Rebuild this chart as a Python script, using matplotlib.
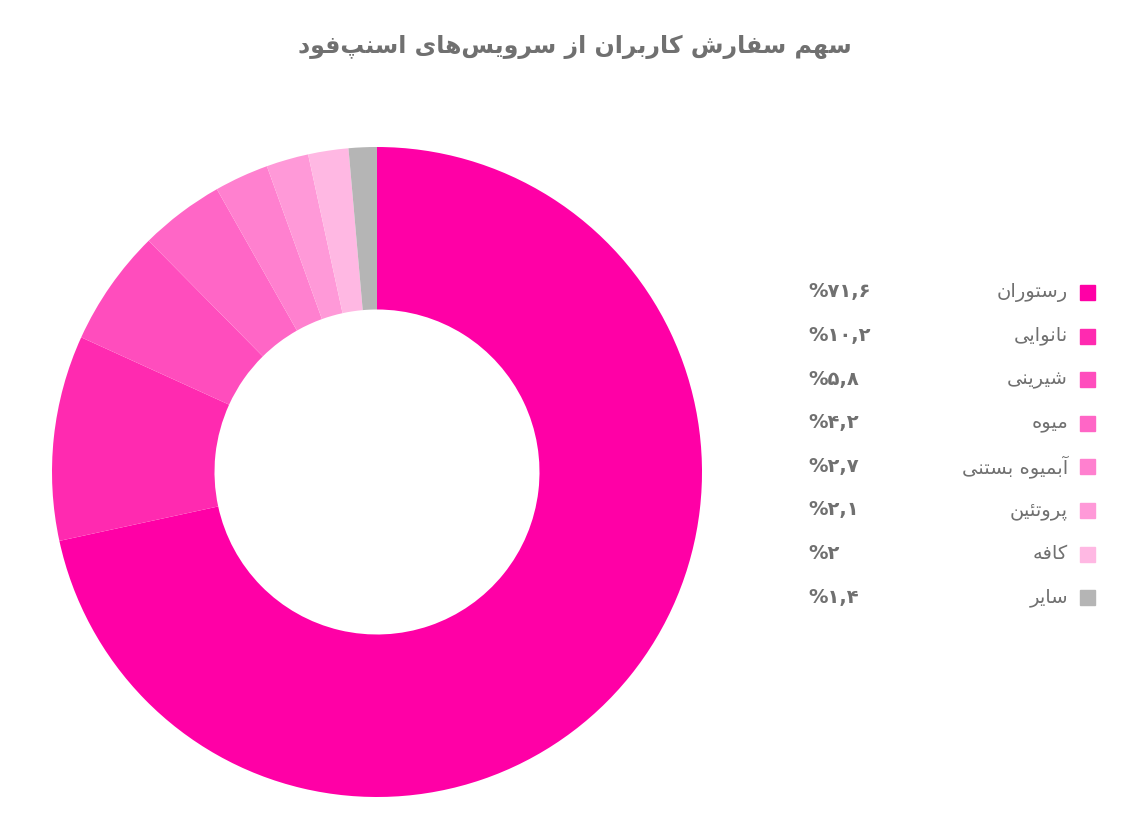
import matplotlib
matplotlib.use("Agg")
import matplotlib.pyplot as plt

# simple Persian shaping: (isolated, final, initial, medial)
FORMS = {
    "ا": (0xFE8D, 0xFE8E, None, None), "آ": (0xFE81, 0xFE82, None, None),
    "ب": (0xFE8F, 0xFE90, 0xFE91, 0xFE92), "پ": (0xFB56, 0xFB57, 0xFB58, 0xFB59),
    "ت": (0xFE95, 0xFE96, 0xFE97, 0xFE98), "د": (0xFEA9, 0xFEAA, None, None),
    "ر": (0xFEAD, 0xFEAE, None, None), "ز": (0xFEAF, 0xFEB0, None, None),
    "س": (0xFEB1, 0xFEB2, 0xFEB3, 0xFEB4), "ش": (0xFEB5, 0xFEB6, 0xFEB7, 0xFEB8),
    "ف": (0xFED1, 0xFED2, 0xFED3, 0xFED4), "ک": (0xFB8E, 0xFB8F, 0xFB90, 0xFB91),
    "ل": (0xFEDD, 0xFEDE, 0xFEDF, 0xFEE0), "م": (0xFEE1, 0xFEE2, 0xFEE3, 0xFEE4),
    "ن": (0xFEE5, 0xFEE6, 0xFEE7, 0xFEE8), "ه": (0xFEE9, 0xFEEA, 0xFEEB, 0xFEEC),
    "و": (0xFEED, 0xFEEE, None, None), "ی": (0xFBFC, 0xFBFD, 0xFBFE, 0xFBFF),
    "ئ": (0xFE89, 0xFE8A, 0xFE8B, 0xFE8C),
}


def fa(text):
    out = []
    n = len(text)
    for i, c in enumerate(text):
        if c == "\u200c":
            continue
        if c not in FORMS:
            out.append(c)
            continue
        prev = text[i - 1] if i > 0 else ""
        nxt = text[i + 1] if i < n - 1 else ""
        jp = prev in FORMS and FORMS[prev][2] is not None
        jn = nxt in FORMS and FORMS[c][2] is not None
        f = FORMS[c]
        if jp and jn:
            code = f[3]
        elif jp:
            code = f[1]
        elif jn:
            code = f[2]
        else:
            code = f[0]
        out.append(chr(code))
    return "".join(out)[::-1]


title = "سهم سفارش کاربران از سرویس\u200cهای اسنپ\u200cفود"
labels = ["رستوران", "نانوایی", "شیرینی", "میوه", "آبمیوه بستنی", "پروتئین", "کافه", "سایر"]
values = [71.6, 10.2, 5.8, 4.2, 2.7, 2.1, 2.0, 1.4]
value_text = ["%۷۱,۶", "%۱۰,۲", "%۵,۸", "%۴,۲", "%۲,۷", "%۲,۱", "%۲", "%۱,۴"]
colors = ["#FF00A6", "#FF2AB0", "#FF4DBD", "#FF66C6", "#FF80CF", "#FF99D8", "#FFB8E3", "#B5B5B5"]

plt.rcParams["font.family"] = ["DejaVu Sans"]
fig = plt.figure(figsize=(11.35, 8.19), dpi=100)

cx, cy, r = 377, 472, 325
ax = fig.add_axes([(cx - r) / 1135, (819 - cy - r) / 819, 2 * r / 1135, 2 * r / 819])
ax.pie(values, colors=colors, startangle=90, counterclock=False,
       wedgeprops=dict(width=0.5, linewidth=0))
ax.set_xlim(-1, 1)
ax.set_ylim(-1, 1)
ax.set_aspect("equal")

fig.text(575 / 1135, 1 - 47 / 819, fa(title), ha="center", va="center",
         fontsize=17, fontweight="bold", color="#707070")

for i, (lab, vt, col) in enumerate(zip(labels, value_text, colors)):
    y = 1 - (292 + i * 43.6) / 819
    fig.patches.append(plt.Rectangle((1080 / 1135, y - 8 / 819), 15 / 1135, 15 / 819,
                                     transform=fig.transFigure, color=col))
    fig.text(1068 / 1135, y, fa(lab), ha="right", va="center", fontsize=14, color="#707070")
    fig.text(808 / 1135, y, vt, ha="left", va="center", fontsize=14,
             fontweight="bold", color="#707070")

fig.savefig("out.png", dpi=100, facecolor="white")
